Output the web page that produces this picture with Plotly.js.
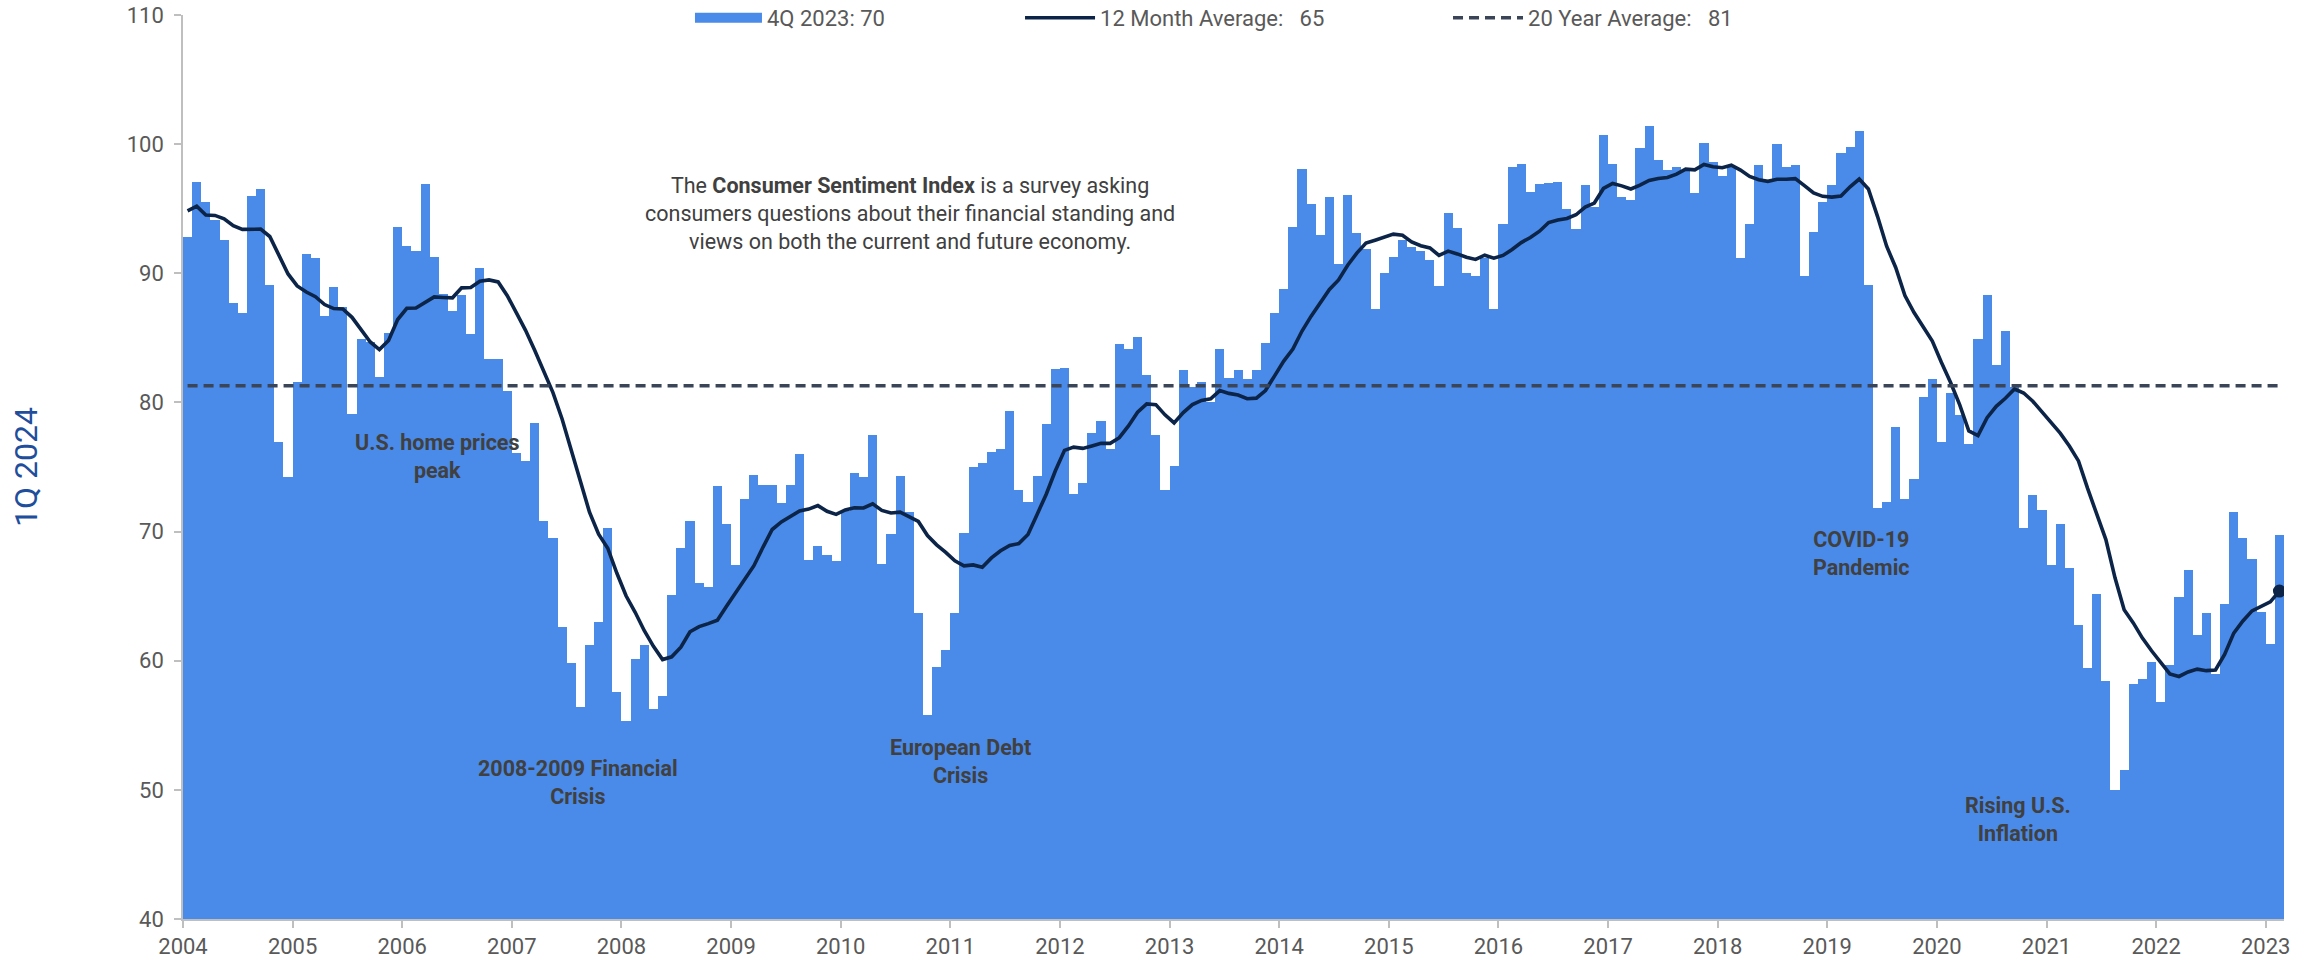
<!DOCTYPE html>
<html>
<head>
<meta charset="utf-8">
<script src="https://cdn.plot.ly/plotly-3.0.1.min.js"></script>
<style>
  html, body { margin: 0; padding: 0; background: #ffffff; }
  #chart { width: 2320px; height: 965px; }
</style>
</head>
<body>
<div id="chart"></div>
<script>
// Consumer Sentiment Index, monthly bars (Nov 2004 - Dec 2023 as drawn)
const sentiment = [
  92.8, 97.1,
  95.5, 94.1, 92.6, 87.7, 86.9, 96.0, 96.5, 89.1, 76.9, 74.2, 81.6, 91.5,
  91.2, 86.7, 88.9, 87.4, 79.1, 84.9, 84.7, 82.0, 85.4, 93.6, 92.1, 91.7,
  96.9, 91.3, 88.4, 87.1, 88.3, 85.3, 90.4, 83.4, 83.4, 80.9, 76.1, 75.5,
  78.4, 70.8, 69.5, 62.6, 59.8, 56.4, 61.2, 63.0, 70.3, 57.6, 55.3, 60.1,
  61.2, 56.3, 57.3, 65.1, 68.7, 70.8, 66.0, 65.7, 73.5, 70.6, 67.4, 72.5,
  74.4, 73.6, 73.6, 72.2, 73.6, 76.0, 67.8, 68.9, 68.2, 67.7, 71.6, 74.5,
  74.2, 77.5, 67.5, 69.8, 74.3, 71.5, 63.7, 55.8, 59.5, 60.8, 63.7, 69.9,
  75.0, 75.3, 76.2, 76.4, 79.3, 73.2, 72.3, 74.3, 78.3, 82.6, 82.7, 72.9,
  73.8, 77.6, 78.6, 76.4, 84.5, 84.1, 85.1, 82.1, 77.5, 73.2, 75.1, 82.5,
  81.2, 81.6, 80.0, 84.1, 81.9, 82.5, 81.8, 82.5, 84.6, 86.9, 88.8, 93.6,
  98.1, 95.4, 93.0, 95.9, 90.7, 96.1, 93.1, 91.9, 87.2, 90.0, 91.3, 92.6,
  92.0, 91.7, 91.0, 89.0, 94.7, 93.5, 90.0, 89.8, 91.2, 87.2, 93.8, 98.2,
  98.5, 96.3, 96.9, 97.0, 97.1, 95.0, 93.4, 96.8, 95.1, 100.7, 98.5, 95.9,
  95.7, 99.7, 101.4, 98.8, 98.0, 98.2, 97.9, 96.2, 100.1, 98.6, 97.5, 98.3,
  91.2, 93.8, 98.4, 97.2, 100.0, 98.2, 98.4, 89.8, 93.2, 95.5, 96.8, 99.3,
  99.8, 101.0, 89.1, 71.8, 72.3, 78.1, 72.5, 74.1, 80.4, 81.8, 76.9, 80.7,
  79.0, 76.8, 84.9, 88.3, 82.9, 85.5, 81.2, 70.3, 72.8, 71.7, 67.4, 70.6,
  67.2, 62.8, 59.4, 65.2, 58.4, 50.0, 51.5, 58.2, 58.6, 59.9, 56.8, 59.7,
  64.9, 67.0, 62.0, 63.7, 59.0, 64.4, 71.5, 69.5, 67.9, 63.8, 61.3, 69.7
];

// 12 month average line, one value per month
const avg12 = [
  94.83, 95.20,
  94.51, 94.48, 94.22, 93.68, 93.40, 93.43, 93.42, 92.85, 91.41, 89.95, 89.02, 88.55,
  88.19, 87.58, 87.27, 87.24, 86.59, 85.67, 84.68, 84.09, 84.80, 86.42, 87.29, 87.31,
  87.78, 88.17, 88.13, 88.10, 88.87, 88.90, 89.38, 89.49, 89.33, 88.27, 86.93, 85.58,
  84.04, 82.33, 80.76, 78.72, 76.34, 73.93, 71.50, 69.80, 68.71, 66.77, 65.03, 63.75,
  62.32, 61.11, 60.09, 60.30, 61.04, 62.24, 62.64, 62.87, 63.13, 64.22, 65.23, 66.26,
  67.36, 68.80, 70.16, 70.75, 71.16, 71.59, 71.74, 72.01, 71.57, 71.33, 71.68, 71.84,
  71.83, 72.15, 71.64, 71.44, 71.50, 71.13, 70.78, 69.69, 68.97, 68.39, 67.73, 67.35,
  67.42, 67.23, 67.96, 68.51, 68.93, 69.07, 69.78, 71.33, 72.89, 74.71, 76.29, 76.54,
  76.44, 76.63, 76.83, 76.83, 77.27, 78.18, 79.24, 79.89, 79.83, 79.04, 78.41, 79.21,
  79.83, 80.16, 80.28, 80.92, 80.70, 80.57, 80.29, 80.33, 80.92, 82.06, 83.20, 84.13,
  85.53, 86.68, 87.77, 88.75, 89.48, 90.62, 91.56, 92.34, 92.56, 92.82, 93.03, 92.94,
  92.43, 92.13, 91.96, 91.38, 91.72, 91.50, 91.24, 91.07, 91.40, 91.17, 91.38, 91.84,
  92.38, 92.77, 93.26, 93.93, 94.13, 94.25, 94.53, 95.12, 95.44, 96.57, 96.96, 96.77,
  96.53, 96.82, 97.19, 97.34, 97.42, 97.68, 98.06, 98.01, 98.43, 98.25, 98.17, 98.37,
  97.99, 97.50, 97.25, 97.12, 97.28, 97.28, 97.33, 96.79, 96.22, 95.96, 95.90, 95.98,
  96.70, 97.30, 96.53, 94.41, 92.10, 90.43, 88.27, 86.96, 85.89, 84.75, 83.09, 81.54,
  79.81, 77.79, 77.44, 78.82, 79.70, 80.32, 81.04, 80.73, 80.09, 79.25, 78.46, 77.62,
  76.63, 75.47, 73.34, 71.42, 69.38, 66.42, 63.94, 62.93, 61.75, 60.77, 59.88, 58.98,
  58.78, 59.13, 59.35, 59.23, 59.28, 60.48, 62.14, 63.08, 63.86, 64.18, 64.56, 65.39
];

const twentyYearAvg = 81.3;

const yearLabels = ['2004','2005','2006','2007','2008','2009','2010','2011','2012','2013',
                    '2014','2015','2016','2017','2018','2019','2020','2021','2022','2023'];

const seriesNames = ['4Q 2023: 70', '12 Month Average:\u00a0\u00a0 65', '20 Year Average:\u00a0\u00a0 81'];

const yTitle = '1Q 2024';

// ---------------------------------------------------------------
const FONT = 'Roboto, "Open Sans", "Liberation Sans", sans-serif';
const BAR_BLUE = '#4a8ae8';
const NAVY = '#0b2447';
const SLATE = '#3a4558';
const AXIS_GRAY = '#bfbfbf';
const TICK_TEXT = '#595959';
const NOTE_TEXT = '#404040';

const n = sentiment.length;
const idx = sentiment.map((_, i) => i);

const traces = [
  { // bars
    type: 'bar', x: idx, y: sentiment, name: seriesNames[0],
    marker: { color: BAR_BLUE, line: { width: 0 } },
    showlegend: false, legendgroup: 'bars', hoverinfo: 'y'
  },
  { // legend swatch for the bars (wide block like the original)
    type: 'scatter', mode: 'lines', x: [null], y: [null], name: seriesNames[0],
    line: { color: BAR_BLUE, width: 13 },
    legend: 'legend', legendgroup: 'bars', hoverinfo: 'skip'
  },
  { // 12 month average
    type: 'scatter', mode: 'lines', x: idx, y: avg12, name: seriesNames[1],
    line: { color: NAVY, width: 3.6 },
    legend: 'legend2', legendgroup: 'avg'
  },
  { // end point marker of the 12 month average
    type: 'scatter', mode: 'markers', x: [idx[n - 1]], y: [avg12[n - 1]],
    marker: { color: NAVY, size: 13 }, showlegend: false, legendgroup: 'avg'
  },
  { // 20 year average
    type: 'scatter', mode: 'lines', x: [idx[0], idx[n - 1]], y: [twentyYearAvg, twentyYearAvg],
    name: seriesNames[2],
    line: { color: SLATE, width: 3.5, dash: '10px,6px' },
    legend: 'legend3'
  }
];

const noteFont = { family: FONT, size: 21.5, color: NOTE_TEXT };
const mkNote = (x, y, text) => ({
  x: x, y: y, xref: 'x', yref: 'y', text: text, showarrow: false,
  xanchor: 'center', yanchor: 'middle', align: 'center', font: noteFont
});

const legendBase = {
  orientation: 'h', y: 0.9967, yanchor: 'middle', xanchor: 'left',
  bgcolor: 'rgba(0,0,0,0)', borderwidth: 0,
  font: { family: FONT, size: 22, color: TICK_TEXT }
};

const layout = {
  width: 2320, height: 965,
  margin: { l: 183, r: 36, t: 15, b: 46, pad: 0, autoexpand: false },
  paper_bgcolor: '#ffffff', plot_bgcolor: '#ffffff',
  font: { family: FONT, color: TICK_TEXT },
  bargap: 0,
  showlegend: true,
  legend: Object.assign({}, legendBase, { x: 0.2413, itemwidth: 67 }),
  legend2: Object.assign({}, legendBase, { x: 0.3984, itemwidth: 70 }),
  legend3: Object.assign({}, legendBase, { x: 0.6021, itemwidth: 70 }),
  xaxis: {
    range: [-0.5, n - 0.5],
    tickmode: 'array',
    tickvals: yearLabels.map((_, k) => 12 * k - 0.5),
    ticktext: yearLabels,
    ticks: 'outside', ticklen: 7, tickwidth: 1.5, tickcolor: AXIS_GRAY,
    showline: true, linecolor: AXIS_GRAY, linewidth: 1.5,
    showgrid: false, zeroline: false,
    tickfont: { family: FONT, size: 22, color: TICK_TEXT },
    fixedrange: true
  },
  yaxis: {
    range: [40, 110], tick0: 40, dtick: 10,
    ticks: 'outside', ticklen: 7, tickwidth: 1.5, tickcolor: AXIS_GRAY,
    showline: true, linecolor: AXIS_GRAY, linewidth: 1.5,
    showgrid: false, zeroline: false,
    tickfont: { family: FONT, size: 22, color: TICK_TEXT },
    ticklabelstandoff: 6,
    title: { text: yTitle, font: { family: FONT, size: 32, color: '#1f4e9c' }, standoff: 80 },
    fixedrange: true
  },
  annotations: [
    mkNote(79.1, 94.65,
      'The <b>Consumer Sentiment Index</b> is a survey asking<br>' +
      'consumers questions about their financial standing and<br>' +
      'views on both the current and future economy.'),
    mkNote(27.4, 75.84, '<b>U.S. home prices<br>peak</b>'),
    mkNote(42.7, 50.6, '<b>2008-2009 Financial<br>Crisis</b>'),
    mkNote(84.6, 52.2, '<b>European Debt<br>Crisis</b>'),
    mkNote(183.2, 68.3, '<b>COVID-19<br>Pandemic</b>'),
    mkNote(200.4, 47.7, '<b>Rising U.S.<br>Inflation</b>')
  ]
};

Plotly.newPlot('chart', traces, layout, { displayModeBar: false, responsive: false });
</script>
</body>
</html>
